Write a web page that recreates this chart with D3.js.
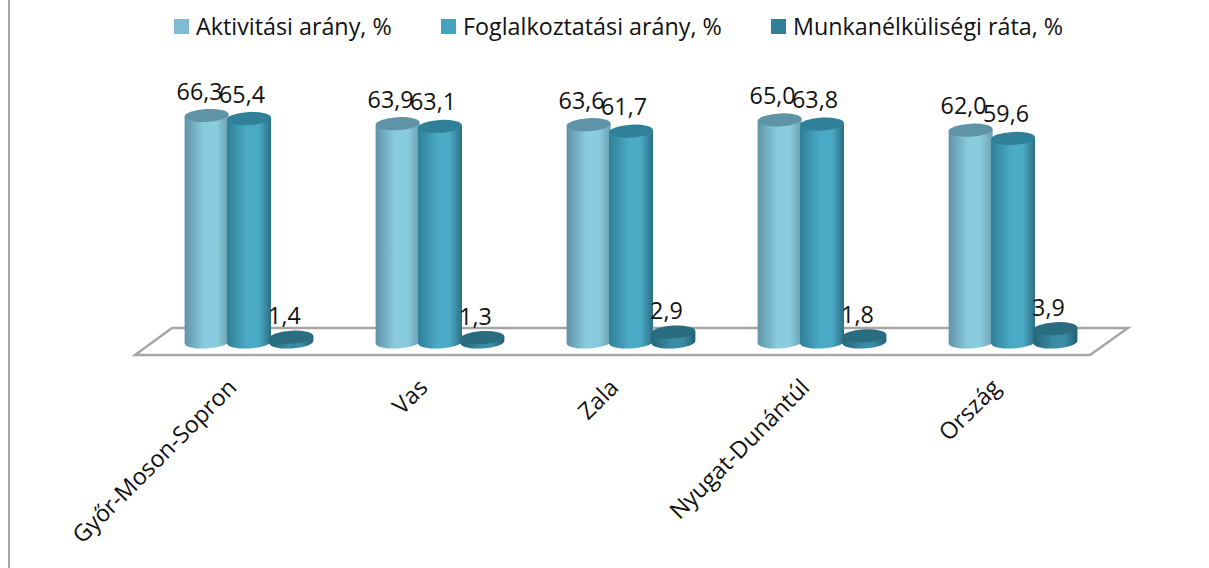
<!DOCTYPE html>
<html>
<head>
<meta charset="utf-8">
<script src="https://cdn.jsdelivr.net/npm/d3@7"></script>
<style>
body{margin:0;background:#fff;}
svg{display:block;}
text{font-family:"Open Sans",sans-serif;fill:#111;}
</style>
</head>
<body>
<script>
//chart data
var categories = ["Győr-Moson-Sopron", "Vas", "Zala", "Nyugat-Dunántúl", "Ország"];
var seriesNames = ["Aktivitási arány, %", "Foglalkoztatási arány, %", "Munkanélküliségi ráta, %"];
var activity = [66.3, 63.9, 63.6, 65.0, 62.0];
var employment = [65.4, 63.1, 61.7, 63.8, 59.6];
var unemployment = [1.4, 1.3, 2.9, 1.8, 3.9];
var seriesValues = [activity, employment, unemployment];

//colors per series: edge, light, dark, cap
var colors = [
    {legend:"#7fbbd2", edge:"#5f93a8", light:"#8accdf", dark:"#6d9fb3", cap:"#5f93a8"},
    {legend:"#46a2bc", edge:"#2f7f97", light:"#4baac5", dark:"#2c6f85", cap:"#2f8098"},
    {legend:"#2f7f97", edge:"#25667a", light:"#3a8ba5", dark:"#235f72", cap:"#2a6c80"}
];

var width = 1209, height = 568,
    fontSize = "23.3px";

var svg = d3.select("body").append("svg")
    .attr("width", width)
    .attr("height", height);

//x scale for the groups, y scale for the values
var x0 = d3.scaleBand().domain(categories).range([185, 1140]);
var x1 = d3.scaleBand().domain(d3.range(3)).range([0, 128]).paddingInner(-0.02);
var y = d3.scaleLinear().domain([0, 66.3]).range([342, 115.5]);

//horizontal gradients for cylinder shading
var defs = svg.append("defs");
colors.forEach(function(c, i){
    var g = defs.append("linearGradient").attr("id", "cyl" + i);
    g.append("stop").attr("offset", "0%").attr("stop-color", c.edge);
    g.append("stop").attr("offset", "45%").attr("stop-color", c.light);
    g.append("stop").attr("offset", "72%").attr("stop-color", c.light);
    g.append("stop").attr("offset", "100%").attr("stop-color", c.dark);
});

//left frame line
svg.append("line")
    .attr("x1", 9).attr("x2", 9)
    .attr("y1", 0).attr("y2", height)
    .attr("stroke", "#a6a6a6")
    .attr("stroke-width", 2);

//floor of the 3d plot
svg.append("path")
    .attr("d", d3.line()([[172, 328], [1128, 328], [1090, 355], [135, 355]]) + "Z")
    .attr("fill", "none")
    .attr("stroke", "#a6a6a6")
    .attr("stroke-width", 2.4);

//legend
var legendX = [174, 441, 771];
var legend = svg.selectAll(".legend")
    .data(seriesNames)
    .enter()
    .append("g")
    .attr("class", "legend")
    .attr("transform", function(d, i){ return "translate(" + legendX[i] + ",19)"; });
legend.append("rect")
    .attr("width", 15).attr("height", 15)
    .attr("fill", function(d, i){ return colors[i].legend; });
legend.append("text")
    .attr("x", 22).attr("y", 16)
    .style("font-size", fontSize)
    .text(function(d){ return d; });

//cylinders
var rx = 22, ry = 6.5, tilt = -3;

var groups = svg.selectAll(".group")
    .data(categories)
    .enter()
    .append("g")
    .attr("class", "group")
    .attr("transform", function(d){ return "translate(" + x0(d) + ",0)"; });

seriesValues.forEach(function(values, s){
    var bars = groups.append("g")
        .attr("class", "bar")
        .datum(function(d, i){ return values[i]; })
        .attr("transform", "translate(" + (x1(s) + x1.bandwidth() / 2) + ",0)");

    bars.append("path")
        .attr("fill", "url(#cyl" + s + ")")
        .attr("d", function(d){
            var top = y(d), base = y(0),
                dy = rx * Math.tan(-tilt * Math.PI / 180);
            return "M" + (-rx) + "," + (top + dy) +
                "L" + (-rx) + "," + (base + dy) +
                "A" + rx + "," + ry + " " + tilt + " 0 0 " + rx + "," + (base - dy) +
                "L" + rx + "," + (top - dy) + "Z";
        });

    bars.append("ellipse")
        .attr("rx", rx).attr("ry", ry)
        .attr("fill", colors[s].cap)
        .attr("transform", function(d){ return "translate(0," + y(d) + ") rotate(" + tilt + ")"; });

    //value labels
    bars.append("text")
        .attr("text-anchor", "middle")
        .attr("x", -7)
        .attr("y", function(d){ return y(d) - (d > 10 ? 16 : 13); })
        .style("font-size", fontSize)
        .text(function(d){ return d3.format(".1f")(d).replace(".", ","); });
});

//rotated category labels
svg.selectAll(".catLabel")
    .data(categories)
    .enter()
    .append("text")
    .attr("class", "catLabel")
    .attr("text-anchor", "end")
    .style("font-size", fontSize)
    .attr("transform", function(d){
        return "translate(" + (x0(d) + 53) + ",389) rotate(-45)";
    })
    .text(function(d){ return d; });
</script>
</body>
</html>
